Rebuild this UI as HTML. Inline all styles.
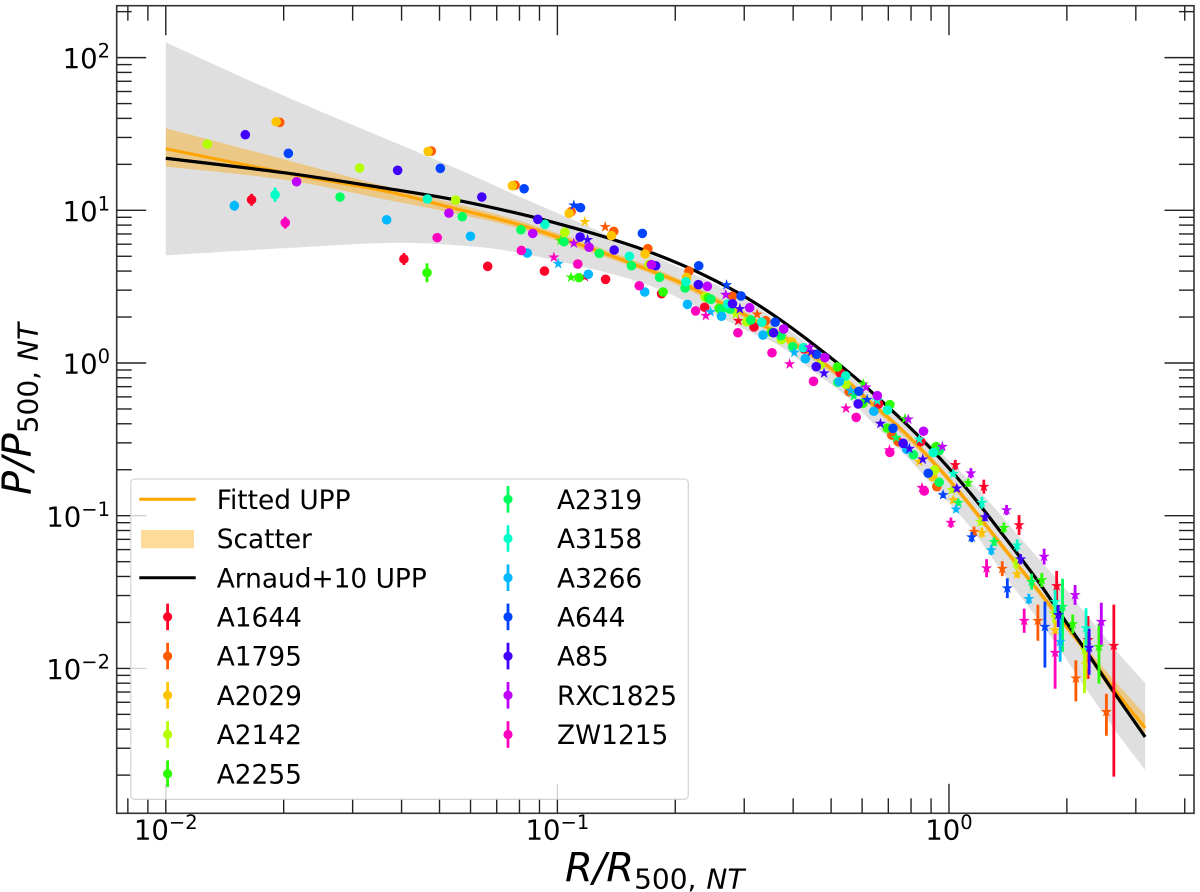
<!DOCTYPE html>
<html lang="en">
<head>
<meta charset="utf-8">
<title>Universal pressure profile</title>
<style>
html,body{margin:0;padding:0;background:#fff;}
svg{display:block;font-family:"DejaVu Sans","Liberation Sans",sans-serif;}
</style>
</head>
<body>
<svg id="chart" xmlns="http://www.w3.org/2000/svg" width="1200" height="892" viewBox="0 0 1200 892">
  <g id="bands"></g>
  <g id="curves"></g>
  <g id="points"></g>
  <g id="ticks"></g>
  <rect x="116.7" y="5.7" width="1077.3" height="807.6" fill="none" stroke="#333" stroke-width="1.6"/>
  <g id="ticklabels" fill="#000"></g>
  <text x="565" y="881.7" font-size="40" font-style="italic" fill="#000">R/R<tspan font-size="28" font-style="normal" dx="0" dy="6.6">500,</tspan><tspan font-size="28" dx="10">NT</tspan></text>
  <text transform="translate(31,495) rotate(-90)" font-size="40" font-style="italic" fill="#000">P/P<tspan font-size="28" font-style="normal" dx="0" dy="6.6">500,</tspan><tspan font-size="28" dx="10">NT</tspan></text>
  <g id="legend"></g>
</svg>
<script>
const xTickLabels = ["\u22122", "\u22121", "0"];
const xTickDecades = [-2, -1, 0];
const yTickLabels = ["2", "1", "0", "\u22121", "\u22122"];
const yTickDecades = [2, 1, 0, -1, -2];

const arnaudR = [-2.000,-1.691,-1.435,-1.267,-1.095,-0.976,-0.891,-0.789,-0.687,-0.603,-0.516,-0.432,-0.347,-0.260,-0.202,-0.117,-0.031,0.054,0.138,0.225,0.283,0.352,0.419,0.501];
const arnaudP = [1.341,1.244,1.143,1.071,0.976,0.897,0.835,0.750,0.648,0.547,0.426,0.285,0.124,-0.052,-0.180,-0.380,-0.602,-0.851,-1.126,-1.421,-1.637,-1.893,-2.148,-2.449];
const fittedR = [-2.000,-1.693,-1.435,-1.267,-1.095,-0.891,-0.720,-0.661,-0.603,-0.516,-0.432,-0.347,-0.260,-0.202,-0.117,-0.031,0.054,0.138,0.225,0.283,0.352,0.419,0.501];
const fittedP = [1.403,1.244,1.123,1.015,0.904,0.729,0.563,0.498,0.419,0.308,0.183,0.046,-0.118,-0.255,-0.445,-0.675,-0.930,-1.205,-1.480,-1.670,-1.893,-2.128,-2.390];

const scatterR = [-2.000,-1.691,-1.436,-1.267,-1.095,-0.891,-0.720,-0.516,-0.347,-0.202,-0.031,0.138,0.283,0.352,0.419,0.501];
const scatterUpper = [1.537,1.329,1.155,1.048,0.930,0.753,0.586,0.331,0.069,-0.232,-0.652,-1.182,-1.647,-1.866,-2.069,-2.305];
const scatterLower = [1.286,1.198,1.069,0.982,0.878,0.704,0.540,0.285,0.023,-0.278,-0.697,-1.228,-1.696,-1.919,-2.174,-2.436];

const greyUpperR = [-2.000,-1.691,-1.267,-1.095,-0.924,-0.789,-0.636,-0.508,-0.380,-0.253,-0.125,-0.023,0.092,0.189,0.291,0.352,0.437,0.501];
const greyUpperP = [2.100,1.742,1.284,1.087,0.897,0.740,0.563,0.393,0.164,-0.085,-0.373,-0.583,-0.878,-1.166,-1.460,-1.650,-1.912,-2.096];
const greyLowerR = [-2.000,-1.691,-1.436,-1.267,-1.095,-0.807,-0.636,-0.508,-0.432,-0.347,-0.260,-0.202,-0.117,-0.031,0.054,0.138,0.266,0.352,0.437,0.501];
const greyLowerP = [0.705,0.753,0.786,0.773,0.720,0.544,0.360,0.203,0.111,-0.052,-0.223,-0.373,-0.589,-0.832,-1.074,-1.375,-1.814,-2.141,-2.449,-2.665];

const a1644CircleR = [-1.781,-1.392,-1.178,-1.033,-0.877,-0.734,-0.624,-0.498,-0.370,-0.278,-0.180,-0.072];
const a1644CircleP = [1.069,0.681,0.633,0.602,0.548,0.454,0.365,0.236,0.092,-0.064,-0.268,-0.515];
const a1644CircleErr = [0.039,0.039];
const a1644StarR = [-0.930,-0.538,0.016,0.089,0.179,0.275,0.355,0.421];
const a1644StarP = [0.565,0.277,-0.668,-0.810,-1.061,-1.460,-1.814,-1.851];
const a1644StarUp = [0,0,0.033,0.046,0.065,0.098,0.157,0.269];
const a1644StarDn = [0,0,0.033,0.046,0.065,0.098,0.255,0.858];

const a1795CircleR = [-1.709,-1.322,-1.108,-0.965,-0.856,-0.769,-0.664,-0.553,-0.468,-0.255,-0.146,-0.130,-0.031];
const a1795CircleP = [1.576,1.388,1.164,0.991,0.862,0.749,0.602,0.437,0.277,-0.188,-0.472,-0.515,-0.810];
const a1795CircleErr = [];
const a1795StarR = [-0.878,-0.490,0.064,0.136,0.227,0.324,0.402];
const a1795StarP = [0.891,0.319,-1.105,-1.347,-1.688,-2.065,-2.284];
const a1795StarUp = [0,0,0.033,0.049,0.105,0.118,0.118];
const a1795StarDn = [0,0,0.033,0.049,0.131,0.151,0.157];

const a2029CircleR = [-1.718,-1.330,-1.115,-0.970,-0.862,-0.776,-0.670,-0.402,-0.041];
const a2029CircleP = [1.580,1.386,1.161,0.980,0.834,0.714,0.561,0.139,-0.745];
const a2029CircleErr = [];
const a2029StarR = [-0.930,-0.076,0.011,0.084,0.174,0.271,0.350];
const a2029StarP = [0.925,-0.646,-0.897,-1.111,-1.382,-1.749,-1.973];
const a2029StarUp = [0,0,0.020,0.033,0.026,0.065,0.098];
const a2029StarDn = [0,0,0.020,0.033,0.026,0.065,0.098];

const a2142CircleR = [-1.894,-1.505,-1.260,-0.981,-0.766,-0.623,-0.517,-0.428,-0.329,-0.263,-0.037];
const a2142CircleP = [1.434,1.277,1.067,0.856,0.646,0.432,0.270,0.153,-0.013,-0.139,-0.701];
const a2142CircleErr = [];
const a2142StarR = [-0.545,0.007,0.080,0.171,0.268,0.346];
const a2142StarP = [0.319,-0.832,-1.039,-1.312,-1.639,-1.880];
const a2142StarUp = [0,0.020,0.026,0.039,0.065,0.065];
const a2142StarDn = [0,0.020,0.026,0.039,0.065,0.282];

const a2255CircleR = [-1.333,-0.945,-0.730,-0.615,-0.587,-0.453,-0.285,-0.220,-0.151,-0.158,-0.033];
const a2255CircleP = [0.591,0.559,0.465,0.426,0.358,0.201,-0.026,-0.264,-0.273,-0.426,-0.548];
const a2255CircleErr = [0.062];
const a2255StarR = [-0.992,-0.965,-0.219,-0.112,0.049,0.140,0.237,0.316,0.383];
const a2255StarP = [0.801,0.561,-0.138,-0.365,-0.784,-1.079,-1.421,-1.709,-1.858];
const a2255StarUp = [0,0,0,0,0.026,0.033,0.046,0.062,0.151];
const a2255StarDn = [0,0,0,0,0.026,0.033,0.046,0.062,0.242];

const a2319CircleR = [-1.555,-1.243,-1.093,-0.983,-0.893,-0.811,-0.739,-0.674,-0.608,-0.580,-0.559,-0.506,-0.429,-0.399,-0.284,-0.091,-0.025,-0.025];
const a2319CircleP = [1.087,0.958,0.873,0.794,0.718,0.637,0.561,0.491,0.417,0.352,0.352,0.282,0.179,0.107,-0.126,-0.601,-0.781,-0.574];
const a2319CircleErr = [];
const a2319StarR = [-0.243,-0.135,0.024,0.115,0.211,0.290];
const a2319StarP = [-0.216,-0.489,-0.915,-1.172,-1.432,-1.596];
const a2319StarUp = [0,0,0.020,0.026,0.052,0.183];
const a2319StarDn = [0,0,0.020,0.026,0.052,0.295];

const a3158CircleR = [-1.721,-1.332,-1.032,-0.816,-0.672,-0.565,-0.478,-0.372,-0.264,-0.157,-0.040];
const a3158CircleP = [1.102,1.074,0.908,0.699,0.532,0.386,0.267,0.100,-0.085,-0.308,-0.587];
const a3158CircleErr = [0.046];
const a3158StarR = [-0.183,-0.076,0.011,0.084,0.174,0.271,0.350];
const a3158StarP = [-0.247,-0.500,-0.725,-0.915,-1.194,-1.563,-1.737];
const a3158StarUp = [0,0,0.020,0.039,0.039,0.079,0.131];
const a3158StarDn = [0,0,0.020,0.039,0.039,0.079,0.144];

const a3266CircleR = [-1.825,-1.436,-1.222,-1.077,-0.921,-0.777,-0.668,-0.581,-0.475,-0.367,-0.280,-0.192,-0.108];
const a3266CircleP = [1.030,0.938,0.830,0.720,0.581,0.465,0.384,0.306,0.183,0.028,-0.122,-0.316,-0.565];
const a3266CircleErr = [0.033];
const a3266StarR = [-0.998,-0.609,-0.395,-0.251,0.018,0.108,0.204,0.284];
const a3266StarP = [0.650,0.334,0.069,-0.181,-0.958,-1.225,-1.545,-1.825];
const a3266StarUp = [0,0,0,0,0.020,0.033,0.033,0.164];
const a3266StarDn = [0,0,0,0,0.020,0.033,0.033,0.131];

const a644CircleR = [-1.687,-1.299,-1.085,-0.941,-0.783,-0.639,-0.531,-0.444,-0.338,-0.230,-0.143,-0.053];
const a644CircleP = [1.373,1.275,1.141,1.017,0.849,0.637,0.439,0.267,0.057,-0.185,-0.428,-0.722];
const a644CircleErr = [];
const a644StarR = [-0.958,-0.568,-0.209,-0.015,0.058,0.149,0.245];
const a644StarP = [1.033,0.511,-0.240,-0.864,-1.141,-1.475,-1.727];
const a644StarUp = [0,0,0,0.020,0.033,0.065,0.164];
const a644StarDn = [0,0,0,0.020,0.033,0.065,0.268];

const a85CircleR = [-1.797,-1.408,-1.193,-1.050,-0.942,-0.855,-0.749,-0.640,-0.553,-0.448,-0.339,-0.232,-0.117];
const a85CircleP = [1.495,1.262,1.087,0.941,0.825,0.740,0.637,0.513,0.388,0.198,-0.024,-0.268,-0.526];
const a85CircleErr = [];
const a85StarR = [-0.923,-0.534,-0.352,-0.319,-0.175,-0.101,-0.067,0.020,0.092,0.183,0.279,0.358];
const a85StarP = [0.807,0.354,0.074,-0.067,-0.397,-0.561,-0.631,-0.821,-1.010,-1.285,-1.650,-1.864];
const a85StarUp = [0,0,0,0,0,0,0,0.020,0.026,0.033,0.065,0.124];
const a85StarDn = [0,0,0,0,0,0,0,0.020,0.026,0.033,0.079,0.177];

const rxc1825CircleR = [-1.666,-1.277,-1.063,-0.919,-0.760,-0.617,-0.509,-0.422,-0.317,-0.183,-0.065];
const rxc1825CircleP = [1.187,0.982,0.849,0.758,0.644,0.502,0.362,0.223,0.035,-0.214,-0.447];
const rxc1825CircleErr = [];
const rxc1825StarR = [-0.958,-0.570,-0.356,-0.212,-0.104,-0.017,0.056,0.147,0.243,0.322,0.389];
const rxc1825StarP = [0.784,0.447,0.103,-0.159,-0.369,-0.548,-0.722,-0.963,-1.268,-1.519,-1.694];
const rxc1825StarUp = [0,0,0,0,0,0,0.033,0.033,0.052,0.065,0.124];
const rxc1825StarDn = [0,0,0,0,0,0,0.033,0.033,0.052,0.065,0.151];

const zw1215CircleR = [-1.695,-1.307,-1.092,-0.948,-0.791,-0.647,-0.539,-0.452,-0.346,-0.237,-0.151,-0.063];
const zw1215CircleP = [0.919,0.821,0.737,0.648,0.506,0.341,0.198,0.067,-0.120,-0.356,-0.585,-0.838];
const zw1215CircleErr = [0.039];
const zw1215StarR = [-1.009,-0.621,-0.407,-0.263,-0.152,-0.069,0.005,0.096,0.192,0.271];
const zw1215StarP = [0.692,0.310,-0.007,-0.297,-0.570,-0.817,-1.046,-1.344,-1.688,-1.897];
const zw1215StarUp = [0,0,0,0,0,0,0.033,0.059,0.079,0.124];
const zw1215StarDn = [0,0,0,0,0,0,0.033,0.059,0.079,0.236];

const seriesNames = ["A1644","A1795","A2029","A2142","A2255","A2319","A3158","A3266","A644","A85","RXC1825","ZW1215"];
const seriesColors = ["#ff0029","#ff5a00","#ffc400","#b4ff00","#2bff00","#00ff5e","#00ffc8","#00b8ff","#0044ff","#3f00ff","#bf00ff","#ff00bf"];
const circleRs = [a1644CircleR,a1795CircleR,a2029CircleR,a2142CircleR,a2255CircleR,a2319CircleR,a3158CircleR,a3266CircleR,a644CircleR,a85CircleR,rxc1825CircleR,zw1215CircleR];
const circlePs = [a1644CircleP,a1795CircleP,a2029CircleP,a2142CircleP,a2255CircleP,a2319CircleP,a3158CircleP,a3266CircleP,a644CircleP,a85CircleP,rxc1825CircleP,zw1215CircleP];
const circleErrs = [a1644CircleErr,a1795CircleErr,a2029CircleErr,a2142CircleErr,a2255CircleErr,a2319CircleErr,a3158CircleErr,a3266CircleErr,a644CircleErr,a85CircleErr,rxc1825CircleErr,zw1215CircleErr];
const starRs = [a1644StarR,a1795StarR,a2029StarR,a2142StarR,a2255StarR,a2319StarR,a3158StarR,a3266StarR,a644StarR,a85StarR,rxc1825StarR,zw1215StarR];
const starPs = [a1644StarP,a1795StarP,a2029StarP,a2142StarP,a2255StarP,a2319StarP,a3158StarP,a3266StarP,a644StarP,a85StarP,rxc1825StarP,zw1215StarP];
const starUps = [a1644StarUp,a1795StarUp,a2029StarUp,a2142StarUp,a2255StarUp,a2319StarUp,a3158StarUp,a3266StarUp,a644StarUp,a85StarUp,rxc1825StarUp,zw1215StarUp];
const starDns = [a1644StarDn,a1795StarDn,a2029StarDn,a2142StarDn,a2255StarDn,a2319StarDn,a3158StarDn,a3266StarDn,a644StarDn,a85StarDn,rxc1825StarDn,zw1215StarDn];

/* axis functions */
const plotLeft = 116.7, plotRight = 1194, plotTop = 5.7, plotBottom = 813.3;
const xLogMin = -2.1254, xLogMax = 0.6257, yLogMax = 2.340, yLogMin = -2.949;
function xAxis(logR) { return plotLeft + (logR - xLogMin) / (xLogMax - xLogMin) * (plotRight - plotLeft); }
function yAxis(logP) { return plotTop + (yLogMax - logP) / (yLogMax - yLogMin) * (plotBottom - plotTop); }

const SVGNS = "http://www.w3.org/2000/svg";
function make(tag, parent, attrs) {
  const el = document.createElementNS(SVGNS, tag);
  for (const k in attrs) el.setAttribute(k, attrs[k]);
  parent.appendChild(el);
  return el;
}
/* Catmull-Rom smoothing through the read-off points */
function smoothSegments(pts) {
  let d = "";
  for (let i = 0; i < pts.length - 1; i++) {
    const p0 = pts[Math.max(i - 1, 0)], p1 = pts[i], p2 = pts[i + 1], p3 = pts[Math.min(i + 2, pts.length - 1)];
    const c1x = p1[0] + (p2[0] - p0[0]) / 6, c1y = p1[1] + (p2[1] - p0[1]) / 6;
    const c2x = p2[0] - (p3[0] - p1[0]) / 6, c2y = p2[1] - (p3[1] - p1[1]) / 6;
    d += " C" + c1x.toFixed(2) + " " + c1y.toFixed(2) + " " + c2x.toFixed(2) + " " + c2y.toFixed(2) + " " + p2[0].toFixed(2) + " " + p2[1].toFixed(2);
  }
  return d;
}
function toPixels(rs, ps) { return rs.map((r, i) => [xAxis(r), yAxis(ps[i])]); }
function pathFrom(rs, ps) {
  const pts = toPixels(rs, ps);
  return "M" + pts[0][0].toFixed(2) + " " + pts[0][1].toFixed(2) + smoothSegments(pts);
}
function bandPath(r1, p1, r2, p2) {
  const lower = toPixels(r2, p2).reverse();
  return pathFrom(r1, p1) + " L" + lower[0][0].toFixed(2) + " " + lower[0][1].toFixed(2) + smoothSegments(lower) + " Z";
}
function starPath(cx, cy, R) {
  let d = "";
  for (let k = 0; k < 10; k++) {
    const rad = k % 2 ? R * 0.382 : R;
    const a = -Math.PI / 2 + k * Math.PI / 5;
    d += (k ? "L" : "M") + (cx + rad * Math.cos(a)).toFixed(2) + " " + (cy + rad * Math.sin(a)).toFixed(2);
  }
  return d + "Z";
}

/* bands */
const bandsG = document.getElementById("bands");
const greyBand = make("path", bandsG, { d: bandPath(greyUpperR, greyUpperP, greyLowerR, greyLowerP), fill: "#808080", "fill-opacity": 0.25 });


const orangeBand = make("path", bandsG, { d: bandPath(scatterR, scatterUpper, scatterR, scatterLower), fill: "#ffa500", "fill-opacity": 0.4 });



/* curves */
const curvesG = document.getElementById("curves");
const fittedLine = make("path", curvesG, { d: pathFrom(fittedR, fittedP), fill: "none", stroke: "#ffa500", "stroke-width": 3.1, "stroke-linejoin": "round" });


const arnaudLine = make("path", curvesG, { d: pathFrom(arnaudR, arnaudP), fill: "none", stroke: "#000", "stroke-width": 3.2, "stroke-linejoin": "round" });



/* data points */
const pointsG = document.getElementById("points");
seriesNames.forEach((name, s) => {
  const color = seriesColors[s];
  const g = make("g", pointsG, { fill: color, stroke: "none" });
  
  
  circleRs[s].forEach((r, i) => {
    const cx = xAxis(r), lp = circlePs[s][i], e = circleErrs[s][i] || 0;
    if (e > 0) {
      const bar = make("line", g, { x1: cx, x2: cx, y1: yAxis(lp + e), y2: yAxis(lp - e), stroke: color, "stroke-width": 2.8 });
      
      
    }
    const dot = make("circle", g, { cx: cx, cy: yAxis(lp), r: 4.8 });
    
    
  });
  starRs[s].forEach((r, i) => {
    const cx = xAxis(r), lp = starPs[s][i], up = starUps[s][i] || 0, dn = starDns[s][i] || 0;
    if (up > 0 || dn > 0) {
      const bar = make("line", g, { x1: cx, x2: cx, y1: yAxis(lp + up), y2: yAxis(lp - dn), stroke: color, "stroke-width": 2.8 });
      
      
    }
    const star = make("path", g, { d: starPath(cx, yAxis(lp), 5.9) });
    
    
  });
});

/* ticks */
const ticksG = document.getElementById("ticks");
const majorLen = 29.5, minorLen = 15, tickStroke = "#222";
function tickLine(x1, y1, x2, y2, nm) {
  const t = make("line", ticksG, { x1: x1, y1: y1, x2: x2, y2: y2, stroke: tickStroke, "stroke-width": 1.4 });
  
  
}
for (let dec = -3; dec <= 0; dec++) {
  for (let m = 1; m <= 9; m++) {
    const v = dec + Math.log10(m);
    if (v < xLogMin || v > xLogMax) continue;
    const len = m === 1 ? majorLen : minorLen, x = xAxis(v);
    tickLine(x, plotBottom, x, plotBottom - len, 'x-tick');
    tickLine(x, plotTop, x, plotTop + len, 'x-tick-top');
  }
}
for (let dec = -3; dec <= 2; dec++) {
  for (let m = 1; m <= 9; m++) {
    const v = dec + Math.log10(m);
    if (v < yLogMin || v > yLogMax) continue;
    const len = m === 1 ? majorLen : minorLen, y = yAxis(v);
    tickLine(plotLeft, y, plotLeft + len, y, 'y-tick');
    tickLine(plotRight, y, plotRight - len, y, 'y-tick-right');
  }
}

/* tick labels */
const labelsG = document.getElementById("ticklabels");
function powerLabel(x, y, exp, anchor, nm) {
  const t = make("text", labelsG, { x: x, y: y, "font-size": 27.5, "text-anchor": anchor });
  
  
  t.appendChild(document.createTextNode("10"));
  const sup = make("tspan", t, { "font-size": 19.5, dy: -10.5 });
  sup.textContent = exp;
}
xTickDecades.forEach((d, i) => {
  powerLabel(xAxis(d), 839.3, xTickLabels[i], "middle", 'x-tick-label');
});
yTickDecades.forEach((d, i) => {
  powerLabel(110, yAxis(d) + 10.6, yTickLabels[i], "end", 'y-tick-label');
});

/* legend */
const legendG = document.getElementById("legend");
const legendBox = make("rect", legendG, { x: 130.7, y: 479, width: 557.6, height: 320.3, rx: 4, fill: "#fff", "fill-opacity": 0.8, stroke: "#ccc", "stroke-opacity": 0.8, "stroke-width": 1.3 });


const legendTopY = 499.3, legendStep = 39.2, legendFont = 26.4;
function legendText(x, row, str) {
  const t = make("text", legendG, { x: x, y: legendTopY + row * legendStep + 9.6, "font-size": legendFont, fill: "#000" });
  t.textContent = str;
  
  
}
const fitKey = make("line", legendG, { x1: 139.3, x2: 195.7, y1: legendTopY, y2: legendTopY, stroke: "#ffa500", "stroke-width": 3 });


legendText(216.7, 0, "Fitted UPP");
const scatKey = make("rect", legendG, { x: 141, y: 530, width: 53, height: 18.3, fill: "#ffa500", "fill-opacity": 0.4 });


legendText(216.7, 1, "Scatter");
const arnKey = make("line", legendG, { x1: 139.3, x2: 195.7, y1: legendTopY + 2 * legendStep, y2: legendTopY + 2 * legendStep, stroke: "#000", "stroke-width": 3 });


legendText(216.7, 2, "Arnaud+10 UPP");
seriesNames.forEach((name, s) => {
  const firstCol = s < 5;
  const row = firstCol ? s + 3 : s - 5;
  const mx = firstCol ? 167.6 : 508;
  const tx = firstCol ? 216.7 : 557;
  const y = legendTopY + row * legendStep;
  const bar = make("line", legendG, { x1: mx, x2: mx, y1: y - 13.3, y2: y + 13.3, stroke: seriesColors[s], "stroke-width": 2.8 });
  
  
  const dot = make("circle", legendG, { cx: mx, cy: y, r: 4.6, fill: seriesColors[s] });
  
  
  legendText(tx, row, name);
});
</script>
</body>
</html>
